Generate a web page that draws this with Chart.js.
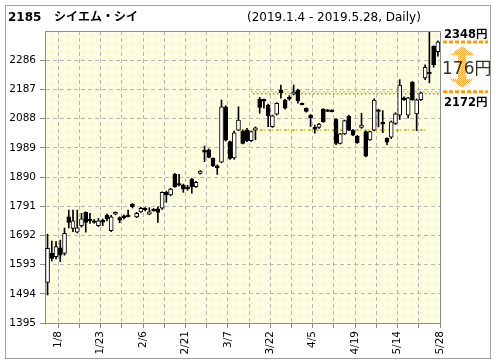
<!DOCTYPE html>
<html>
<head>
<meta charset="utf-8">
<title>2185 シイエム・シイ</title>
<script src="https://cdn.jsdelivr.net/npm/chart.js@4.4.1/dist/chart.umd.min.js"></script>
<style>
  html, body { margin: 0; padding: 0; background: #fff; }
  canvas { display: block; }
</style>
</head>
<body>
<canvas id="chart" width="496" height="364"></canvas>
<script>
// daily candles, 2019.1.4 - 2019.5.28
const dates = ['1/4','1/7','1/8','1/9','1/10','1/11','1/15','1/16','1/17','1/18','1/21','1/22','1/23','1/24','1/25','1/28','1/29','1/30','1/31',
  '2/1','2/4','2/5','2/6','2/7','2/8','2/12','2/13','2/14','2/15','2/18','2/19','2/20','2/21','2/22','2/25','2/26','2/27','2/28',
  '3/1','3/4','3/5','3/6','3/7','3/8','3/11','3/12','3/13','3/14','3/15','3/18','3/19','3/20','3/22','3/25','3/26','3/27','3/28','3/29',
  '4/1','4/2','4/3','4/4','4/5','4/8','4/9','4/10','4/11','4/12','4/15','4/16','4/17','4/18','4/19','4/22','4/23','4/24','4/25',
  '5/7','5/8','5/9','5/10','5/13','5/14','5/15','5/16','5/17','5/20','5/21','5/22','5/23','5/24','5/27','5/28'];

const opens = [1533,1631,1620,1650,1631,1755,1716,1703,1725,1770,1747,1741,1725,1743,1761,1708,1764,1752,1758,1761,
  1797,1755,1772,1784,1764,1781,1782,1784,1838,1829,1899,1868,1863,1856,1882,1857,1902,1980,1982,1953,
  1928,1940,2128,2010,1955,2049,2045,2049,2013,2049,2153,2153,2134,2061,2103,2185,2151,2160,2171,2185,
  2140,2123,2100,2058,2058,2120,2118,2117,2086,2004,2036,2096,2049,2029,2058,2044,2016,2049,2118,2075,
  2021,2025,2072,2100,2158,2100,2211,2104,2152,2226,2246,2333,2315];
const highs = [1696,1673,1671,1676,1717,1778,1778,1778,1767,1772,1767,1746,1750,1748,1764,1760,1772,1755,1762,1778,
  1800,1770,1787,1786,1786,1783,1789,1840,1842,1852,1902,1899,1866,1862,1886,1875,1912,1995,1985,1955,
  1931,2151,2132,2012,2046,2128,2050,2055,2046,2060,2160,2154,2137,2100,2142,2202,2153,2166,2202,2188,
  2141,2125,2102,2066,2072,2122,2119,2118,2088,2038,2083,2100,2051,2031,2106,2046,2046,2155,2120,2115,
  2023,2080,2108,2220,2162,2160,2214,2155,2178,2270,2385,2335,2352];
const lows = [1490,1605,1612,1603,1625,1717,1705,1700,1720,1703,1733,1733,1722,1725,1741,1705,1762,1735,1748,1755,
  1785,1752,1770,1775,1762,1774,1736,1780,1804,1826,1855,1860,1838,1845,1835,1855,1900,1942,1955,1925,
  1899,1938,2012,1950,1950,2047,2002,2010,2010,2016,2106,2123,2061,2058,2100,2157,2120,2150,2168,2140,
  2134,2110,2061,2039,2055,2075,2112,2111,2000,2002,2034,2047,2030,2004,2055,1958,2014,2046,2060,2040,
  2000,2020,2068,2085,2150,2090,2150,2047,2150,2220,2209,2262,2300];
const closes = [1648,1614,1654,1625,1699,1736,1741,1718,1748,1736,1741,1736,1741,1737,1748,1755,1770,1744,1752,1755,
  1789,1767,1784,1778,1772,1775,1770,1838,1829,1849,1857,1862,1849,1850,1857,1872,1910,1974,1956,1928,
  1922,2128,2015,1953,2040,2083,2004,2013,2044,2057,2126,2147,2097,2097,2140,2176,2123,2154,2178,2148,
  2134,2112,2091,2052,2069,2078,2112,2111,2004,2036,2081,2049,2032,2006,2066,1961,2044,2151,2112,2069,
  2008,2077,2104,2202,2152,2158,2152,2152,2175,2262,2240,2270,2348];

const yTicks = [1395, 1494, 1593, 1692, 1791, 1890, 1989, 2088, 2187, 2286];
const tickLabels = ['1/8', '1/23', '2/6', '2/21', '3/7', '3/22', '4/5', '4/19', '5/14', '5/28'];

// support / resistance levels and the range box on the right
const resistance = 2175;
const support = 2049;
const rangeHigh = 2348;
const rangeLow = 2172;

function hatchPattern(ctx, a, b) {
  const c = document.createElement('canvas');
  c.width = 2; c.height = 2;
  const p = c.getContext('2d');
  p.fillStyle = a;
  p.fillRect(0, 0, 2, 2);
  p.fillStyle = b;
  p.fillRect(0, 0, 1, 1);
  p.fillRect(1, 1, 1, 1);
  return ctx.createPattern(c, 'repeat');
}

const decorations = {
  id: 'decorations',
  beforeDraw(chart) {
    const { ctx, chartArea: a } = chart;
    ctx.save();
    ctx.fillStyle = '#fff';
    ctx.fillRect(0, 0, chart.width, chart.height);
    ctx.fillStyle = hatchPattern(ctx, '#ffffee', '#fafadc');
    ctx.fillRect(a.left, a.top, a.right - a.left, a.bottom - a.top);
    ctx.restore();
  },
  afterDraw(chart) {
    const { ctx, chartArea: a } = chart;
    const y = chart.scales.y;
    ctx.save();

    // plot box top + right
    ctx.strokeStyle = '#8c8c8c';
    ctx.lineWidth = 1;
    ctx.beginPath();
    ctx.moveTo(a.left, a.top + 0.5);
    ctx.lineTo(a.right + 0.5, a.top + 0.5);
    ctx.lineTo(a.right + 0.5, a.bottom);
    ctx.stroke();

    // outer frame
    ctx.strokeStyle = '#a0a0a0';
    ctx.strokeRect(5.5, 5.5, 485, 353);

    // header
    ctx.fillStyle = '#000';
    ctx.textBaseline = 'alphabetic';
    ctx.font = 'bold 12px "DejaVu Sans", "Noto Sans CJK JP"';
    ctx.fillText('2185', 8, 21);
    ctx.fillText('シイエム・シイ', 54, 21);
    ctx.font = '12px "DejaVu Sans"';
    ctx.fillText('(2019.1.4 - 2019.5.28, Daily)', 247, 21);

    // range box on the right
    const yHi = y.getPixelForValue(rangeHigh);
    const yLo = y.getPixelForValue(rangeLow) - 2;
    ctx.strokeStyle = '#ff9d00';
    ctx.lineWidth = 3;
    ctx.setLineDash([4, 2]);
    ctx.beginPath();
    ctx.moveTo(443, yHi);
    ctx.lineTo(488, yHi);
    ctx.moveTo(443, yLo);
    ctx.lineTo(488, yLo);
    ctx.stroke();
    ctx.setLineDash([]);

    // double arrow
    const cx = 462, t = yHi + 4, b = yLo - 4;
    ctx.fillStyle = hatchPattern(ctx, 'rgba(255,255,255,0)', '#ffa733');
    ctx.beginPath();
    ctx.moveTo(cx, t);
    ctx.lineTo(cx + 12, t + 9);
    ctx.lineTo(cx + 4, t + 9);
    ctx.lineTo(cx + 4, b - 9);
    ctx.lineTo(cx + 12, b - 9);
    ctx.lineTo(cx, b);
    ctx.lineTo(cx - 12, b - 9);
    ctx.lineTo(cx - 4, b - 9);
    ctx.lineTo(cx - 4, t + 9);
    ctx.lineTo(cx - 12, t + 9);
    ctx.closePath();
    ctx.fill();

    ctx.fillStyle = '#000';
    ctx.font = 'bold 11.5px "DejaVu Sans", "Noto Sans CJK JP"';
    ctx.fillText(rangeHigh + '円', 444, yHi - 4);
    ctx.fillText(rangeLow + '円', 444, yLo + 14);
    ctx.fillStyle = '#35351f';
    ctx.font = '17px "DejaVu Sans", "Noto Sans CJK JP"';
    ctx.fillText((rangeHigh - rangeLow) + '円', 442, (yHi + yLo) / 2 + 7);

    ctx.restore();
  }
};

document.addEventListener('DOMContentLoaded', function() {
  const idx = dates.map((d, i) => i);
  const bodyColors = idx.map(i => closes[i] >= opens[i] ? '#ffffff' : '#000000');
  const last = dates.length - 0.5;

  const ctx = document.getElementById('chart').getContext('2d');
  new Chart(ctx, {
    type: 'bar',
    data: {
      datasets: [
        {
          label: 'body',
          data: idx.map(i => ({ x: i, y: [opens[i], closes[i]] })),
          backgroundColor: bodyColors,
          borderColor: '#000',
          borderWidth: 1,
          borderSkipped: false,
          barThickness: 4,
          grouped: false,
          clip: 0,
          order: 0
        },
        {
          label: 'wick',
          data: idx.map(i => ({ x: i, y: [lows[i], highs[i]] })),
          backgroundColor: '#000',
          borderWidth: 0,
          barThickness: 1,
          grouped: false,
          clip: 0,
          order: 1
        },
        {
          type: 'line',
          label: 'resistance',
          data: [{ x: 48, y: resistance + 4 }, { x: last, y: resistance + 4 }],
          borderColor: '#e8c200',
          borderWidth: 1.5,
          borderDash: [1.5, 2.5],
          pointRadius: 0,
          order: 2
        },
        {
          type: 'line',
          label: 'resistance2',
          data: [{ x: 48.5, y: resistance - 3 }, { x: last, y: resistance - 3 }],
          borderColor: '#000',
          borderWidth: 1,
          borderDash: [1, 3],
          pointRadius: 0,
          order: 2
        },
        {
          type: 'line',
          label: 'support',
          data: [{ x: 45.3, y: support }, { x: 89.5, y: support }],
          borderColor: '#e8c200',
          borderWidth: 1.5,
          borderDash: [1.5, 2.5],
          pointRadius: 0,
          order: 2
        },
        {
          type: 'line',
          label: 'support2',
          data: [{ x: 48.5, y: support }, { x: 89.5, y: support }],
          borderColor: '#000',
          borderWidth: 1,
          borderDash: [1, 7],
          pointRadius: 0,
          order: 2
        }
      ]
    },
    options: {
      responsive: false,
      devicePixelRatio: 1,
      animation: false,
      layout: { padding: { left: 0, right: 56, top: 31, bottom: 0 } },
      plugins: { legend: { display: false }, tooltip: { enabled: false } },
      scales: {
        x: {
          type: 'linear',
          min: -0.6,
          max: last,
          offset: false,
          afterFit: s => { s.height = 41; },
          afterBuildTicks: s => {
            s.ticks = [];
            for (let v = 2.5; v <= last; v += 5) s.ticks.push({ value: v });
          },
          grid: { color: '#b8b8b8', offset: false, tickLength: 5, tickColor: '#8c8c8c' },
          border: { color: '#8c8c8c', width: 1, dash: [4, 3] },
          ticks: {
            autoSkip: false,
            minRotation: 90,
            maxRotation: 90,
            padding: 3,
            color: '#000',
            font: { family: 'DejaVu Sans', size: 10.5 },
            callback: v => ((v - 2.5) % 10 === 0 ? tickLabels[(v - 2.5) / 10] : '')
          }
        },
        y: {
          min: 1395,
          max: 2385,
          afterFit: s => { s.width = 45; },
          afterBuildTicks: s => { s.ticks = yTicks.map(v => ({ value: v })); },
          grid: { color: '#b8b8b8', tickLength: 5, tickColor: '#8c8c8c' },
          border: { color: '#8c8c8c', width: 1, dash: [4, 3] },
          ticks: {
            padding: 4,
            color: '#000',
            font: { family: 'DejaVu Sans', size: 10.5 },
            callback: v => String(v)
          }
        }
      }
    },
    plugins: [decorations]
  });
});
</script>
</body>
</html>
